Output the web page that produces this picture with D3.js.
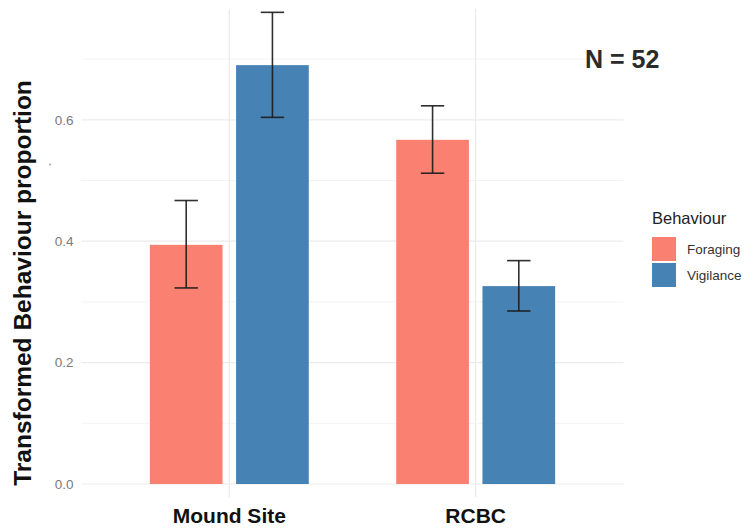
<!DOCTYPE html>
<html>
<head>
<meta charset="utf-8">
<script src="https://cdn.jsdelivr.net/npm/d3@7"></script>
<style>
  html, body { margin: 0; padding: 0; background: #ffffff; }
  svg { display: block; font-family: "Liberation Sans", Arial, Helvetica, sans-serif; }
</style>
</head>
<body>
<svg id="chart" width="750" height="531"></svg>
<script>
// Sites on the x axis and behaviours within each site
const sites = ["Mound Site", "RCBC"];
const behaviours = ["Foraging", "Vigilance"];

// Mean transformed proportion per site, one array per behaviour
const foragingMean  = [0.394, 0.567];
const vigilanceMean = [0.690, 0.326];

// Error bar limits (lower, upper) per site
const foragingLower  = [0.323, 0.512];
const foragingUpper  = [0.467, 0.623];
const vigilanceLower = [0.604, 0.285];
const vigilanceUpper = [0.777, 0.368];

const yTicks = [0.0, 0.2, 0.4, 0.6];
const yMinorTicks = [0.1, 0.3, 0.5, 0.7];
const sampleLabel = "N = 52";

const colours = { Foraging: "#fa8072", Vigilance: "#4682b4" };

// Long-form rows built from the arrays above
const rows = [];
sites.forEach((s, i) => {
  rows.push({ site: s, behaviour: "Foraging",  mean: foragingMean[i],  lo: foragingLower[i],  hi: foragingUpper[i] });
  rows.push({ site: s, behaviour: "Vigilance", mean: vigilanceMean[i], lo: vigilanceLower[i], hi: vigilanceUpper[i] });
});

const svg = d3.select("#chart");

// Panel extent
const panel = { left: 81.5, right: 623.5, top: 9, bottom: 497 };

const x = d3.scalePoint().domain(sites).range([panel.left, panel.right]).padding(0.6);
const step = x.step();
const dodge = d3.scaleBand().domain(behaviours)
  .range([-0.35 * step, 0.35 * step])
  .paddingInner(0.157).paddingOuter(0.0785);

const y = d3.scaleLinear().domain([-0.0214, 0.7825]).range([panel.bottom, panel.top]);

// Grid
const grid = svg.append("g");
grid.selectAll("line.minor").data(yMinorTicks).join("line")
  .attr("x1", panel.left).attr("x2", panel.right)
  .attr("y1", d => y(d)).attr("y2", d => y(d))
  .attr("stroke", "#f3f3f3").attr("stroke-width", 1);
grid.selectAll("line.major").data(yTicks).join("line")
  .attr("x1", panel.left).attr("x2", panel.right)
  .attr("y1", d => y(d)).attr("y2", d => y(d))
  .attr("stroke", "#ebebeb").attr("stroke-width", 1.2);
grid.selectAll("line.vx").data(sites).join("line")
  .attr("x1", d => x(d)).attr("x2", d => x(d))
  .attr("y1", panel.top).attr("y2", panel.bottom)
  .attr("stroke", "#ebebeb").attr("stroke-width", 1.2);

// Y axis tick labels
const yAxis = d3.axisLeft(y).tickValues(yTicks).tickFormat(d3.format(".1f")).tickSize(0).tickPadding(0);
const yg = svg.append("g").attr("transform", `translate(${panel.left - 8},0)`).call(yAxis);
yg.select(".domain").remove();
yg.selectAll("text").attr("fill", "#7a7a7a").attr("font-size", 13.5)
  .attr("font-family", "Liberation Sans, Arial, sans-serif");

// Bars
svg.append("g").selectAll("rect").data(rows).join("rect")
  .attr("x", d => x(d.site) + dodge(d.behaviour))
  .attr("width", dodge.bandwidth())
  .attr("y", d => y(d.mean))
  .attr("height", d => y(0) - y(d.mean))
  .attr("fill", d => colours[d.behaviour]);

// Error bars
const capHalf = 0.0475 * step;
const eb = svg.append("g").attr("stroke", "#1a1a1a").attr("stroke-width", 1.6).attr("stroke-opacity", 0.9);
rows.forEach(d => {
  const cx = x(d.site) + dodge(d.behaviour) + dodge.bandwidth() / 2;
  eb.append("line").attr("x1", cx).attr("x2", cx).attr("y1", y(d.lo)).attr("y2", y(d.hi));
  eb.append("line").attr("x1", cx - capHalf).attr("x2", cx + capHalf).attr("y1", y(d.hi)).attr("y2", y(d.hi));
  eb.append("line").attr("x1", cx - capHalf).attr("x2", cx + capHalf).attr("y1", y(d.lo)).attr("y2", y(d.lo));
});

// X axis labels
svg.append("g").selectAll("text").data(sites).join("text")
  .attr("x", d => x(d)).attr("y", 523)
  .attr("text-anchor", "middle")
  .attr("font-size", 21).attr("font-weight", "bold").attr("fill", "#111")
  .text(d => d);

// Y axis title
svg.append("text")
  .attr("transform", "translate(31,283) rotate(-90)")
  .attr("text-anchor", "middle")
  .attr("font-size", 24.5).attr("font-weight", "bold").attr("fill", "#111")
  .text("Transformed Behaviour proportion");

// stray mark beside the y axis
svg.append("circle").attr("cx", 50).attr("cy", 164.5).attr("r", 0.9).attr("fill", "#999");

// Sample size annotation
svg.append("text")
  .attr("x", 585).attr("y", 68)
  .attr("font-size", 25).attr("font-weight", "bold").attr("fill", "#2b2b2b")
  .text(sampleLabel);

// Legend
const lg = svg.append("g").attr("transform", "translate(652,0)");
lg.append("text").attr("x", 0).attr("y", 224)
  .attr("font-size", 16.5).attr("fill", "#222").text("Behaviour");
behaviours.forEach((b, i) => {
  const top = 237 + i * 26;
  lg.append("rect").attr("x", 0).attr("y", top).attr("width", 24).attr("height", 24)
    .attr("fill", colours[b]);
  lg.append("text").attr("x", 35).attr("y", top + 17)
    .attr("font-size", 13.5).attr("fill", "#333").text(b);
});
</script>
</body>
</html>
